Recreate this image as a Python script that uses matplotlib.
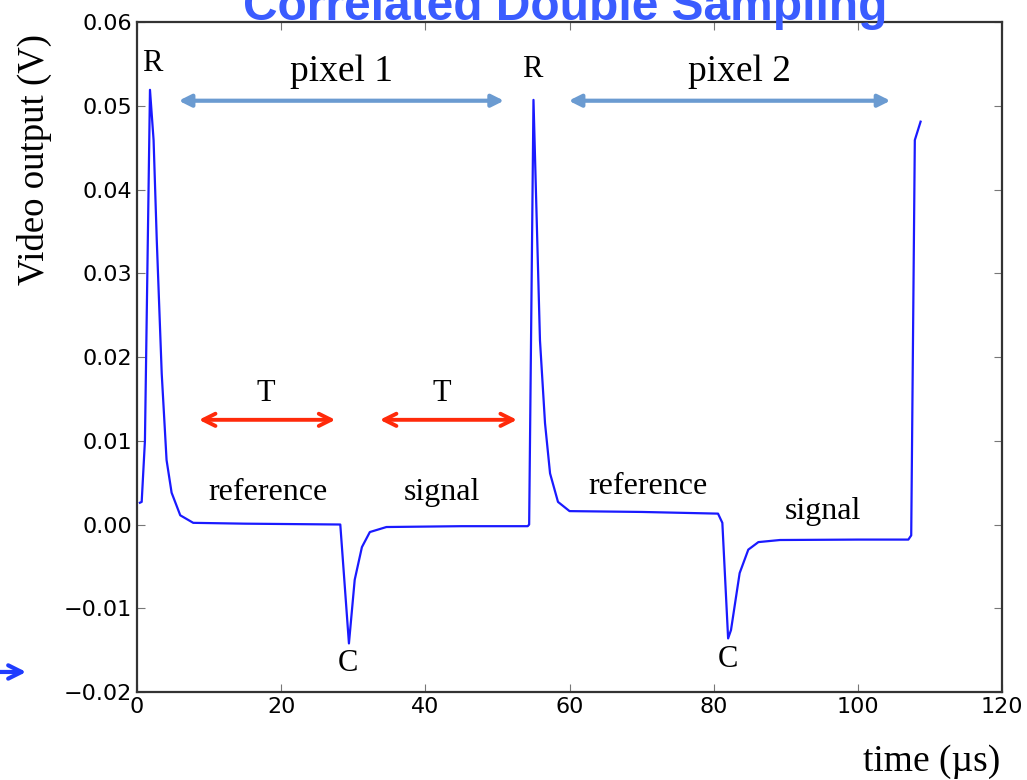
import numpy as np
import matplotlib.pyplot as plt

# waveform (time in us, output in V)
t_us = [0.4, 0.65, 1.1, 1.8, 2.3, 2.74, 3.43, 4.1, 4.8, 6.0, 7.8, 15.0, 28.2,
        29.4, 30.2, 31.2, 32.3, 34.6, 45.0, 54.2,
        54.4, 55.0, 55.4, 55.9, 56.6, 57.3, 58.4, 60.0, 70.0, 80.6,
        81.2, 82.0, 82.4, 83.6, 84.8, 86.2, 89.2, 100.0, 107.0,
        107.4, 107.9, 108.7]
v_out = [0.0026, 0.0027, 0.0100, 0.0519, 0.0459, 0.0340, 0.0180, 0.0077, 0.0038, 0.0011, 0.0002, 0.0001, 0.0,
         -0.0142, -0.0066, -0.0027, -0.0009, -0.0003, -0.0002, -0.0002,
         0.0, 0.0507, 0.0379, 0.0220, 0.0121, 0.0061, 0.0027, 0.0016, 0.0015, 0.0013,
         0.0002, -0.0136, -0.0126, -0.0058, -0.0030, -0.0021, -0.00185, -0.0018, -0.0018,
         -0.0013, 0.0459, 0.0481]

ref_x = [18.2, 70.9]
ref_y = [0.0038, 0.0045]
sig_x = [42.3, 95.1]
sig_y = [0.0038, 0.0015]
r_x = [2.05, 54.85]
r_y = [0.0551, 0.0543]
c_x = [29.3, 82.0]
c_y = [-0.0166, -0.0161]
pixel_spans = [(5.4, 51.3), (59.5, 104.9)]
pixel_x = [28.3, 83.6]
pixel_names = ['pixel 1', 'pixel 2']
t_spans = [(8.2, 27.9), (33.3, 53.1)]
t_x = [17.8, 42.3]

serif = ['Liberation Serif', 'DejaVu Serif']

fig = plt.figure(figsize=(10.27, 7.8), dpi=100)
ax = fig.add_axes([0.1334, 0.1128, 0.8423, 0.859])
ax.plot(t_us, v_out, color='#1a1aff', lw=1.6)
ax.set_xlim(0, 120)
ax.set_ylim(-0.02, 0.06)
ax.set_xticks(np.arange(0, 121, 20))
ax.set_yticks(np.arange(-0.02, 0.061, 0.01))
ax.yaxis.set_major_formatter(plt.FuncFormatter(lambda v, p: ('%.2f' % v).replace('-', '\u2212')))
ax.tick_params(direction='in', labelsize=16, length=6, top=True, right=True, color='#777777')
for s in ax.spines.values():
    s.set_color('#333333')
    s.set_linewidth(1.6)

# blue span arrows
for (a, b), px, name in zip(pixel_spans, pixel_x, pixel_names):
    ax.annotate('', xy=(a, 0.0506), xytext=(b, 0.0506),
                arrowprops=dict(arrowstyle='<|-|>', color='#6b9bd1', lw=3, mutation_scale=18))
    ax.text(px, 0.0541, name, fontsize=27, family=serif, ha='center', va='center')

# red T arrows
for (a, b), tx in zip(t_spans, t_x):
    ax.annotate('', xy=(a, 0.0125), xytext=(b, 0.0125),
                arrowprops=dict(arrowstyle='<->', color='#ff2a0a', lw=2.8, mutation_scale=22))
    ax.text(tx, 0.0157, 'T', fontsize=22, family=serif, ha='center', va='center')

for x, y in zip(r_x, r_y):
    ax.text(x, y, 'R', fontsize=22, family=serif, ha='center', va='center')
for x, y in zip(c_x, c_y):
    ax.text(x, y, 'C', fontsize=22, family=serif, ha='center', va='center')
for x, y in zip(ref_x, ref_y):
    ax.text(x, y, 'reference', fontsize=23, family=serif, ha='center', va='center')
for x, y in zip(sig_x, sig_y):
    ax.text(x, y, 'signal', fontsize=23, family=serif, ha='center', va='center')

fig.text(0.034, 0.795, 'Video output (V)', fontsize=26.5, family=serif, rotation=90,
         ha='center', va='center')
fig.text(0.974, 0.023, 'time (\u00b5s)', fontsize=27, family=serif, ha='right', va='center')

fig.text(0.55, 0.974, 'Correlated Double Sampling', fontsize=34.5, fontweight='bold',
         family=['Liberation Sans', 'DejaVu Sans'], color='#3a5cff', ha='center', va='baseline')

# slide pointer at the left edge
fig.add_artist(plt.matplotlib.patches.FancyArrowPatch(
    (-0.005, 0.1385), (0.0255, 0.1385), transform=fig.transFigure,
    arrowstyle='->', color='#1f3cff', lw=3, mutation_scale=24, shrinkA=0, shrinkB=0))

fig.savefig('out.png', dpi=100)
